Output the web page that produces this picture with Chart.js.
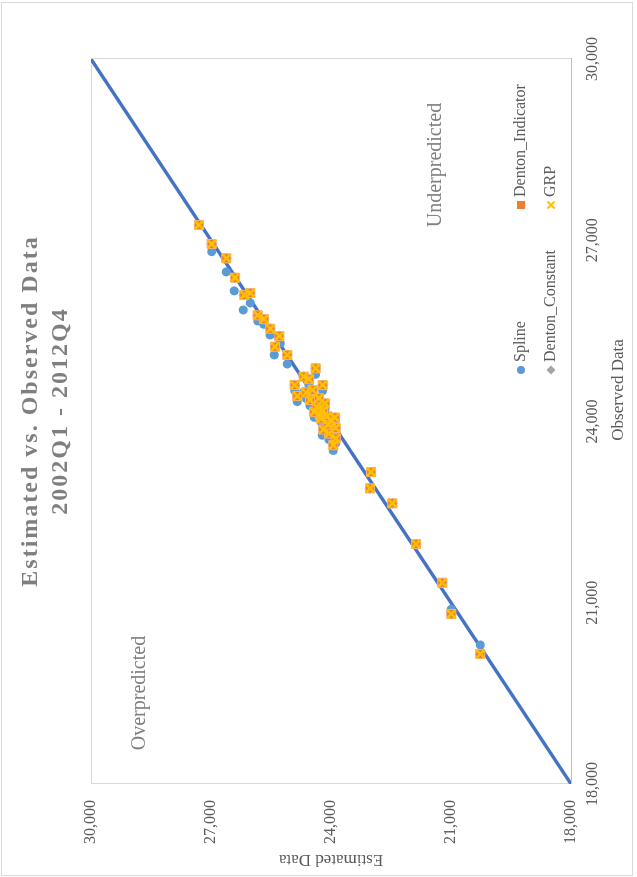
<!DOCTYPE html>
<html>
<head>
<meta charset="utf-8">
<script src="https://cdn.jsdelivr.net/npm/chart.js@4.4.1/dist/chart.umd.min.js"></script>
<style>
    html, body { margin: 0; padding: 0; background: #fff; overflow: hidden; }
    /* the chart is drawn landscape and turned a quarter turn to the left */
    #wrap {
        position: absolute; left: 0; top: 0; width: 877px; height: 637px;
        transform-origin: 0 0; transform: translate(0, 877px) rotate(-90deg);
    }
</style>
</head>
<body>
<div id="wrap"><canvas id="grafico" width="877" height="637"></canvas></div>
<script>
const seriesNames = ['Spline', 'Denton_Constant', 'Denton_Indicator', 'GRP'];
const seriesColors = ['#5B9BD5', '#A5A5A5', '#ED7D31', '#FFC000'];

const axisTicks = [18000, 21000, 24000, 27000, 30000];

// 45 degree reference line
const lineX = [18000, 30000];
const lineY = [18000, 30000];

// observed values (x) for the Denton / GRP points
const observed = [20152, 20814, 21331, 21972, 22646, 22894, 23164, 23608, 23720, 23800, 23868,
    23894, 23950, 24010, 24050, 24066, 24088, 24105, 24160, 24180, 24242, 24300, 24356, 24384,
    24422, 24480, 24522, 24604, 24604, 24700, 24742, 24880, 25101, 25238, 25415, 25536, 25696,
    25758, 26094, 26127, 26380, 26701, 26938, 27253];

const dentonConstant = [20268, 20993, 21218, 21875, 22468, 23025, 23000, 23943, 23880, 24050, 24193,
    23883, 24080, 24000, 24250, 23900, 24093, 24275, 24420, 24200, 24358, 24150, 24525, 24300,
    24843, 24620, 24458, 24908, 24208, 24550, 24683, 24383, 25093, 25400, 25293, 25518, 25675,
    25833, 26168, 26018, 26400, 26618, 26983, 27300];

const dentonIndicator = [20268, 20993, 21218, 21875, 22468, 23025, 23000, 23943, 23880, 24050, 24193,
    23883, 24080, 24000, 24250, 23900, 24093, 24275, 24420, 24200, 24358, 24150, 24525, 24300,
    24843, 24620, 24458, 24908, 24208, 24550, 24683, 24383, 25093, 25400, 25293, 25518, 25675,
    25833, 26168, 26018, 26400, 26618, 26983, 27300];

const grp = [20268, 20993, 21218, 21875, 22468, 23025, 23000, 23943, 23880, 24050, 24193,
    23883, 24080, 24000, 24250, 23900, 24093, 24275, 24420, 24200, 24358, 24150, 24525, 24300,
    24843, 24620, 24458, 24908, 24208, 24550, 24683, 24383, 25093, 25400, 25293, 25518, 25675,
    25833, 26168, 26018, 26400, 26618, 26983, 27300];

// spline points sit a little apart from the others
const splineObserved = [20302, 20892, 21331, 21972, 22646, 22894, 23164, 23520, 23640, 23700, 23773,
    23800, 23860, 23920, 23977, 23980, 24000, 24020, 24070, 24090, 24150, 24210, 24260, 24290,
    24330, 24380, 24430, 24510, 24510, 24600, 24490, 24780, 24952, 25101, 25294, 25432, 25609,
    25664, 25846, 25963, 26162, 26476, 26811, 27253];

const splineEstimated = [20268, 20993, 21218, 21875, 22468, 23025, 23000, 23943, 23880, 24050, 24218,
    23883, 24080, 24000, 24233, 23900, 24093, 24275, 24420, 24200, 24358, 24150, 24525, 24300,
    24843, 24620, 24458, 24908, 24208, 24550, 24683, 24383, 25093, 25418, 25268, 25525, 25683,
    25833, 26193, 26018, 26418, 26618, 26983, 27300];

const titleLines = ['Estimated vs. Observed Data', '2002Q1 - 2012Q4'];
const xAxisTitle = 'Observed Data';
const notes = [
    {text: 'Overpredicted', x: 19506, y: 28775},
    {text: 'Underpredicted', x: 28245, y: 21375}
];

const serif = '"Liberation Serif", "Times New Roman", serif';

function toPoints(xs, ys) {
    return xs.map((x, i) => ({x: x, y: ys[i]}));
}

// marker used in the legend, same look as the points
function drawMarker(ctx, idx, x, y) {
    ctx.save();
    ctx.fillStyle = seriesColors[idx];
    ctx.strokeStyle = seriesColors[idx];
    ctx.beginPath();
    if (idx === 0) {
        ctx.arc(x, y, 4, 0, Math.PI * 2);
        ctx.fill();
    } else if (idx === 1) {
        ctx.moveTo(x, y - 4.5); ctx.lineTo(x + 4.5, y); ctx.lineTo(x, y + 4.5); ctx.lineTo(x - 4.5, y);
        ctx.closePath();
        ctx.fill();
    } else if (idx === 2) {
        ctx.fillRect(x - 4, y - 4, 8, 8);
    } else {
        ctx.lineWidth = 2;
        ctx.moveTo(x - 3.5, y - 3.5); ctx.lineTo(x + 3.5, y + 3.5);
        ctx.moveTo(x + 3.5, y - 3.5); ctx.lineTo(x - 3.5, y + 3.5);
        ctx.stroke();
    }
    ctx.restore();
}

const framePlugin = {
    id: 'framePlugin',
    beforeDraw(chart) {
        const {ctx, chartArea: a} = chart;
        ctx.save();
        ctx.fillStyle = '#ffffff';
        ctx.fillRect(0, 0, chart.width, chart.height);
        ctx.strokeStyle = '#D9D9D9';
        ctx.lineWidth = 1;
        ctx.strokeRect(1.5, 1.5, 873, 631);
        ctx.strokeRect(a.left + 0.5, a.top + 0.5, a.right - a.left, a.bottom - a.top);
        ctx.restore();
    }
};

const textPlugin = {
    id: 'textPlugin',
    afterDraw(chart) {
        const ctx = chart.ctx;
        const sx = chart.scales.x;
        const sy = chart.scales.y;
        ctx.save();

        // title, spaced out letters
        ctx.font = 'bold 24px ' + serif;
        ctx.fillStyle = '#7F7F7F';
        ctx.textAlign = 'center';
        ctx.textBaseline = 'middle';
        ctx.letterSpacing = '2px';
        ctx.fillText(titleLines[0], 466, 31);
        ctx.fillText(titleLines[1], 466, 61);
        ctx.letterSpacing = '0px';

        // notes inside the plot
        ctx.font = '20px ' + serif;
        notes.forEach((n) => {
            ctx.fillText(n.text, sx.getPixelForValue(n.x), sy.getPixelForValue(n.y));
        });

        // x axis title sits a bit off centre
        ctx.fillStyle = '#595959';
        ctx.font = '17px ' + serif;
        ctx.fillText(xAxisTitle, 487, 619);

        // legend, two columns
        const cols = [507, 672];
        const rows = [521, 551];
        ctx.font = '16px ' + serif;
        ctx.textAlign = 'left';
        seriesNames.forEach((name, i) => {
            const cx = cols[Math.floor(i / 2)];
            const cy = rows[i % 2];
            drawMarker(ctx, i, cx, cy);
            ctx.fillText(name, cx + 8, cy);
        });
        ctx.restore();
    }
};

let ctx = document.getElementById('grafico');

new Chart(ctx.getContext('2d'), {
    type: 'scatter',
    data: {
        datasets: [
            {
                label: 'line',
                type: 'line',
                data: toPoints(lineX, lineY),
                borderColor: '#4472C4',
                borderWidth: 3.5,
                pointRadius: 0,
                order: 5
            },
            {
                label: seriesNames[0],
                data: toPoints(splineObserved, splineEstimated),
                pointStyle: 'circle',
                pointRadius: 4.5,
                backgroundColor: seriesColors[0],
                borderColor: seriesColors[0],
                borderWidth: 0,
                order: 3
            },
            {
                label: seriesNames[1],
                data: toPoints(observed, dentonConstant),
                pointStyle: 'rectRot',
                pointRadius: 5.5,
                backgroundColor: seriesColors[1],
                borderColor: seriesColors[1],
                borderWidth: 0,
                order: 2
            },
            {
                label: seriesNames[2],
                data: toPoints(observed, dentonIndicator),
                pointStyle: 'rect',
                pointRadius: 6.4,
                backgroundColor: seriesColors[2],
                borderColor: '#F4B183',
                borderWidth: 1,
                order: 1
            },
            {
                label: seriesNames[3],
                data: toPoints(observed, grp),
                pointStyle: 'crossRot',
                pointRadius: 6,
                borderColor: seriesColors[3],
                borderWidth: 2.5,
                order: 0
            }
        ]
    },
    options: {
        responsive: false,
        animation: false,
        events: [],
        devicePixelRatio: 1,
        layout: {padding: {top: 91, right: 59, left: 0, bottom: 0}},
        scales: {
            x: {
                type: 'linear',
                min: 18000,
                max: 30000,
                afterBuildTicks: (scale) => { scale.ticks = axisTicks.map((v) => ({value: v})); },
                afterFit: (scale) => { scale.height = 66; },
                grid: {display: false, drawTicks: false},
                border: {display: true, color: '#BFBFBF', width: 1},
                ticks: {
                    padding: 12,
                    color: '#595959',
                    font: {family: serif, size: 16},
                    callback: (v) => v.toLocaleString('en-US')
                },
                title: {display: false}
            },
            y: {
                type: 'linear',
                min: 18000,
                max: 30000,
                afterBuildTicks: (scale) => { scale.ticks = axisTicks.map((v) => ({value: v})); },
                afterFit: (scale) => { scale.width = 93; },
                grid: {display: false, drawTicks: false},
                border: {display: true, color: '#D9D9D9', width: 1},
                ticks: {
                    padding: 16,
                    color: '#595959',
                    font: {family: serif, size: 16},
                    callback: (v) => v.toLocaleString('en-US')
                },
                title: {
                    display: true,
                    text: 'Estimated Data',
                    color: '#595959',
                    font: {family: serif, size: 17},
                    padding: {top: 7, bottom: 0}
                }
            }
        },
        plugins: {
            legend: {display: false},
            title: {display: false},
            tooltip: {enabled: false}
        }
    },
    plugins: [framePlugin, textPlugin]
});
</script>
</body>
</html>
